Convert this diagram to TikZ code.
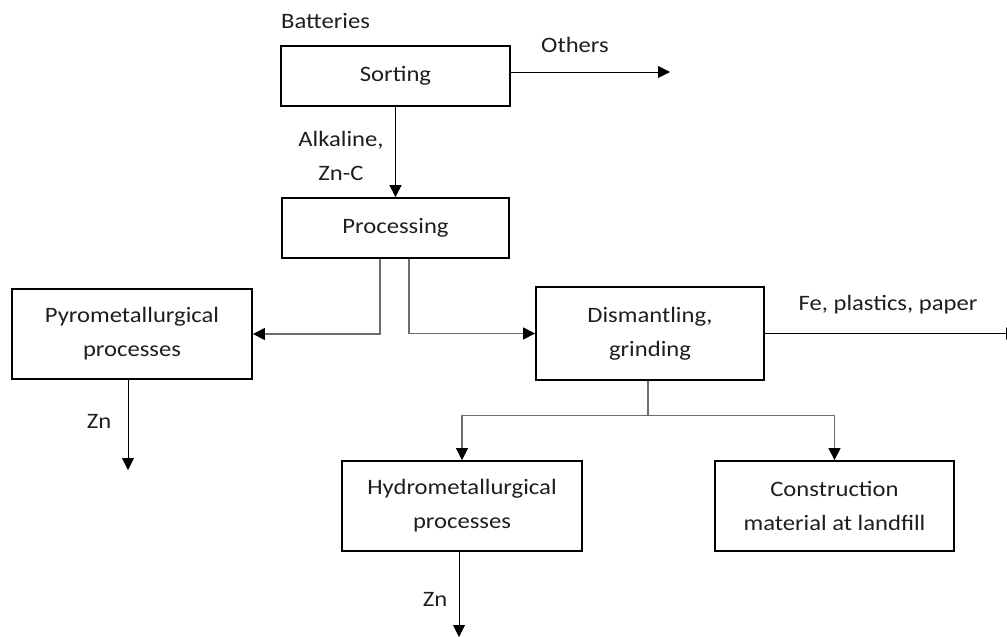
\documentclass[tikz,border=0pt]{standalone}
\usepackage{fontspec}
\setmainfont[FakeStretch=1.12]{Carlito}
\usetikzlibrary{arrows.meta}
\definecolor{txt}{HTML}{1E1E1E}
\definecolor{conngray}{HTML}{6E6E6E}
\tikzset{
  every node/.style={font=\fontsize{22pt}{34pt}\selectfont, text=txt},
  box/.style={draw=black, line width=1.8pt, inner sep=0pt, align=center},
  arr/.style={draw=black, line width=1pt, -{Triangle[length=12pt,width=12pt]}},
  garr/.style={draw=conngray, line width=1.1pt, -{Triangle[length=12pt,width=12pt,color=black]}},
  lbl/.style={inner sep=0pt, align=center},
}
\begin{document}
\begin{tikzpicture}[x=1pt,y=-1pt]
\useasboundingbox (0,0) rectangle (1007,637);
% boxes
\node[box, minimum width=229pt, minimum height=60pt] (sorting) at (395.5,76) {Sorting};
\node[box, minimum width=227pt, minimum height=60pt] (processing) at (395.5,228) {Processing};
\node[box, minimum width=240pt, minimum height=90pt] (pyro) at (132,334) {Pyrometallurgical\\processes};
\node[box, minimum width=228pt, minimum height=93pt] (dism) at (650,333.5) {Dismantling,\\grinding};
\node[box, minimum width=240pt, minimum height=90pt] (hydro) at (462,506) {Hydrometallurgical\\processes};
\node[box, minimum width=239pt, minimum height=90pt] (constr) at (834.5,506) {Construction\\material at landfill};
% labels
\node[lbl, anchor=west] (batt) at (281,21) {Batteries};
\node[lbl] (others) at (575,45) {Others};
\node[lbl] (alk) at (341,156) {Alkaline,\\Zn-C};
\node[lbl] (fe) at (888,305) {Fe, plastics, paper};
\node[lbl] (zn1) at (99,421) {Zn};
\node[lbl] (zn2) at (435,599) {Zn};
% free ends
\coordinate (othersend) at (670,72);
\coordinate (feend) at (1018,333.5);
\coordinate (zn1end) at (128,470);
\coordinate (zn2end) at (459,637);
% connectors
\draw[arr] (sorting.east |- othersend) -- (othersend);
\draw[arr] (sorting.south) -- (processing.north);
\draw[garr] ([xshift=-15.5pt]processing.south) |- (pyro.east);
\draw[garr] ([xshift=13.5pt]processing.south) |- (dism.west);
\draw[arr] (dism.east) -- (feend);
\draw[draw=conngray, line width=1.1pt] ([xshift=-2pt]dism.south) -- ++(0,35) coordinate (split);
\draw[garr] (split) -| (hydro.north);
\draw[garr] (split) -| (constr.north);
\draw[arr] (pyro.south -| zn1end) -- (zn1end);
\draw[arr] (hydro.south -| zn2end) -- (zn2end);
\end{tikzpicture}
\end{document}
